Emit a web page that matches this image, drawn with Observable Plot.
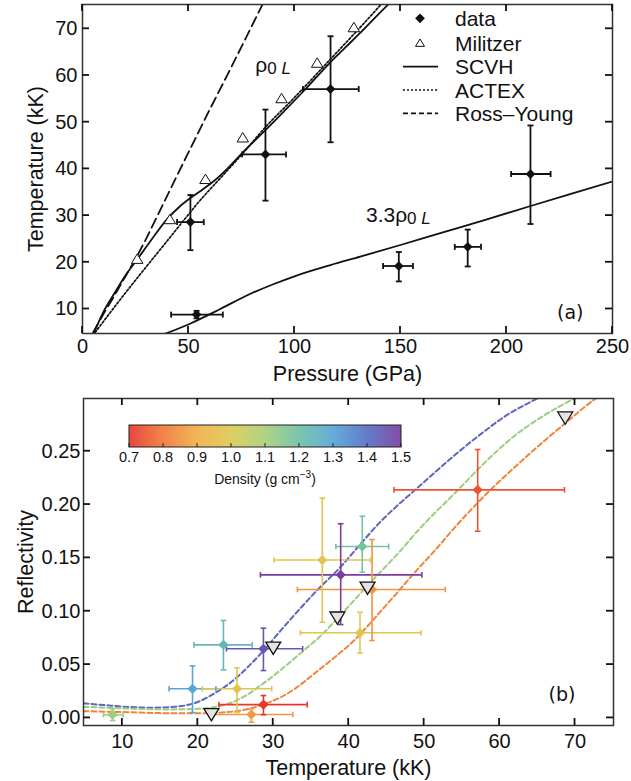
<!DOCTYPE html>
<html><head><meta charset="utf-8">
<script src="https://cdn.jsdelivr.net/npm/d3@7"></script>
<script src="https://cdn.jsdelivr.net/npm/@observablehq/plot@0.6"></script>
<style>
body{margin:0;background:#fff;}
#wrap{position:relative;width:631px;height:781px;overflow:hidden;background:#fff;}
.panel{position:absolute;left:0;}
</style></head><body><div id="wrap"><div id="pa" class="panel" style="top:0"></div><div id="pb" class="panel" style="top:390px"></div></div>
<script>
// ---------- Panel (a): Temperature vs Pressure ----------
const obsP   = [50.9, 53.8, 86.3, 117.0, 149.2, 181.7, 211.3];
const obsPLo = [44.6, 41.8, 75.3, 104.0, 141.8, 175.6, 202.2];
const obsPHi = [57.2, 66.2, 96.0, 130.3, 155.9, 188.0, 220.8];
const obsT   = [28.6, 8.8, 43.1, 57.1, 19.2, 23.3, 38.9];
const obsTLo = [22.6, 8.0, 33.2, 45.7, 15.9, 19.1, 28.2];
const obsTHi = [34.4, 9.6, 52.7, 68.4, 22.2, 27.0, 49.3];

const milP = [25.8, 41.2, 58.0, 75.6, 93.9, 110.7, 128.0];
const milT = [20.6, 29.1, 37.7, 46.6, 55.0, 62.6, 70.2];

const scvhP = [5.5, 10, 15, 20, 25.8, 32, 40, 46, 51, 57, 62, 68, 74.5, 80, 85.2, 95, 105, 116, 124, 131, 140, 146];
const scvhT = [5.0, 9.5, 13.3, 17.0, 20.6, 24.5, 29.3, 32.0, 33.8, 35.7, 37.4, 39.9, 43.0, 45.5, 47.8, 52.3, 57.0, 62.4, 66.0, 69.1, 73.3, 76];
const actexP = [6, 10, 20, 30, 40, 46, 55, 66.6, 75, 86, 100, 118, 132, 142];
const actexT = [5.0, 7.4, 13.3, 19.0, 24.6, 28.0, 33.0, 38.8, 43.0, 48.8, 55.3, 64.0, 70.8, 75.8];
const ryP = [5, 10, 15, 20, 25, 30, 38.4, 49.4, 60, 70, 84.7, 88];
const ryT = [5.0, 9.0, 12.8, 16.8, 20.7, 25.0, 32.8, 43.0, 52.7, 61.6, 75.0, 78];
const scvh33P = [38.4, 51, 65, 78, 90, 100, 117, 131, 150, 170, 190, 211, 230, 250];
const scvh33T = [4.6, 6.9, 10.0, 13.0, 15.3, 17.0, 19.4, 21.2, 23.7, 26.4, 29.1, 32.0, 34.6, 37.3];

const curveLabelText = ["ρ0 L", "3.3ρ0 L"];
const curveLabelP = [89.9, 149];
const curveLabelT = [62.1, 30.0];

const pTicks = [0, 50, 100, 150, 200, 250];
const tTicks = [10, 20, 30, 40, 50, 60, 70];
const legendA = ["data", "Militzer", "SCVH", "ACTEX", "Ross–Young"];

// ---------- Panel (b): Reflectivity vs Temperature ----------
const refT   = [8.7, 19.3, 23.4, 25.2, 28.7, 28.7, 27.1, 36.5, 38.94, 41.8, 43.1, 41.5, 57.1];
const refTLo = [7.5, 16.2, 19.5, 20.6, 23.8, 22.8, 21.6, 30.1, 28.3, 38.3, 33.2, 33.6, 46.0];
const refTHi = [10.1, 22.4, 27.2, 29.8, 33.9, 34.5, 32.6, 42.9, 49.7, 45.3, 52.8, 49.6, 68.6];
const refR   = [0.003, 0.0273, 0.0685, 0.0273, 0.0648, 0.0125, 0.0032, 0.148, 0.1341, 0.1607, 0.1204, 0.0798, 0.2138];
const refRLo = [-0.0025, 0.005, 0.045, 0.005, 0.0444, 0.003, -0.004, 0.0897, 0.0875, 0.1366, 0.0725, 0.0607, 0.175];
const refRHi = [0.0085, 0.0488, 0.0913, 0.047, 0.0841, 0.021, 0.0085, 0.206, 0.182, 0.189, 0.1672, 0.099, 0.2516];
const refRho = [1.12, 1.3, 1.24, 0.98, 1.45, 0.7, 0.86, 0.98, 1.5, 1.19, 0.85, 0.98, 0.74];

const triT = [21.8, 30.0, 38.5, 42.5, 68.7];
const triR = [0.004, 0.0663, 0.0945, 0.1225, 0.282];

const blueRho = 1.42;
const blueT = [4.85, 8, 11, 14, 17, 19.9, 22.1, 24.4, 26.6, 28.7, 31, 33.5, 36, 38.9, 41.5, 44.2, 47, 49.5, 53, 57.5, 61, 64.6, 67];
const blueR = [0.0138, 0.0118, 0.0102, 0.0096, 0.0105, 0.0147, 0.0226, 0.0334, 0.0475, 0.063, 0.082, 0.102, 0.121, 0.1413, 0.1625, 0.1838, 0.2025, 0.218, 0.240, 0.266, 0.284, 0.298, 0.307];
const greenRho = 1.12;
const greenT = [4.85, 8, 12, 16, 19, 22, 24.5, 26.6, 29, 31, 33.5, 36.3, 38.6, 42.9, 46.9, 49.1, 54.4, 58, 61.9, 66, 69.9, 72];
const greenR = [0.0105, 0.0095, 0.0085, 0.0080, 0.0083, 0.0100, 0.0145, 0.022, 0.034, 0.045, 0.060, 0.077, 0.094, 0.127, 0.157, 0.175, 0.213, 0.239, 0.264, 0.284, 0.2994, 0.307];
const orangeRho = 0.82;
const orangeT = [4.85, 10, 15, 20, 24, 27, 29, 31, 33, 35.4, 38, 40.7, 43, 46, 49.1, 51.3, 54.5, 58.4, 62, 65, 68.5, 72.75, 75.1];
const orangeR = [0.0063, 0.0055, 0.0045, 0.0043, 0.0055, 0.009, 0.0135, 0.0194, 0.028, 0.0413, 0.056, 0.0725, 0.090, 0.114, 0.139, 0.156, 0.182, 0.211, 0.235, 0.254, 0.275, 0.2994, 0.31];

const rTicks = [0, 0.05, 0.10, 0.15, 0.20, 0.25];
const tbTicks = [10, 20, 30, 40, 50, 60, 70];
const rhoTicks = [0.7, 0.8, 0.9, 1.0, 1.1, 1.2, 1.3, 1.4, 1.5];
const rhoColors = ["#e6372f", "#f07a3a", "#f2ae4a", "#dccb55", "#a8d078", "#70c0a6", "#58a6d6", "#5571c4", "#7b3d9e"];

// ---------- helpers ----------
const FONT = "'Liberation Sans', Arial, Helvetica, sans-serif";
const capV = {draw(c, s){ const r = Math.sqrt(s/Math.PI); c.moveTo(0,-r); c.lineTo(0,r); }};
const capH = {draw(c, s){ const r = Math.sqrt(s/Math.PI); c.moveTo(-r,0); c.lineTo(r,0); }};
const triUp = {draw(c, s){ const r = Math.sqrt(s/Math.PI); c.moveTo(0,-1.2*r); c.lineTo(1.25*r,0.85*r); c.lineTo(-1.25*r,0.85*r); c.closePath(); }};
const triDown = {draw(c, s){ const r = Math.sqrt(s/Math.PI); c.moveTo(0,1.2*r); c.lineTo(1.25*r,-0.85*r); c.lineTo(-1.25*r,-0.85*r); c.closePath(); }};
const pts = (X, Y, kx, ky) => X.map((v, i) => ({[kx]: v, [ky]: Y[i]}));

const obs = obsP.map((p, i) => ({P: p, Plo: obsPLo[i], Phi: obsPHi[i], T: obsT[i], Tlo: obsTLo[i], Thi: obsTHi[i]}));
const mil = pts(milP, milT, "P", "T");
const clabels = curveLabelText.map((t, i) => ({label: t, P: curveLabelP[i], T: curveLabelT[i]}));
const K = "#111";

const plotA = Plot.plot({
  width: 631, height: 390,
  marginTop: 4, marginBottom: 57, marginLeft: 82, marginRight: 19,
  style: {fontFamily: FONT, fontSize: "20px", color: K, background: "#fff"},
  x: {domain: [0, 250]},
  y: {domain: [4.75, 75.2]},
  marks: [
    Plot.line(pts(ryP, ryT, "P", "T"), {x: "P", y: "T", stroke: K, strokeWidth: 1.8, strokeDasharray: "10,5", clip: true}),
    Plot.line(pts(actexP, actexT, "P", "T"), {x: "P", y: "T", stroke: K, strokeWidth: 1.7, strokeDasharray: "2,2", curve: "monotone-x", clip: true}),
    Plot.line(pts(scvhP, scvhT, "P", "T"), {x: "P", y: "T", stroke: K, strokeWidth: 1.8, curve: "monotone-x", clip: true}),
    Plot.line(pts(scvh33P, scvh33T, "P", "T"), {x: "P", y: "T", stroke: K, strokeWidth: 1.8, curve: "monotone-x", clip: true}),
    Plot.ruleY(obs, {y: "T", x1: "Plo", x2: "Phi", stroke: K, strokeWidth: 1.8}),
    Plot.ruleX(obs, {x: "P", y1: "Tlo", y2: "Thi", stroke: K, strokeWidth: 1.8}),
    Plot.dot(obs, {x: "Plo", y: "T", symbol: capV, r: 3, stroke: K, strokeWidth: 1.8}),
    Plot.dot(obs, {x: "Phi", y: "T", symbol: capV, r: 3, stroke: K, strokeWidth: 1.8}),
    Plot.dot(obs, {x: "P", y: "Tlo", symbol: capH, r: 3, stroke: K, strokeWidth: 1.8}),
    Plot.dot(obs, {x: "P", y: "Thi", symbol: capH, r: 3, stroke: K, strokeWidth: 1.8}),
    Plot.dot(obs, {x: "P", y: "T", symbol: "diamond2", r: 4.4, fill: K, stroke: "none"}),
    Plot.dot(mil, {x: "P", y: "T", symbol: triUp, r: 4.6, fill: "white", stroke: K, strokeWidth: 1}),
    Plot.text(clabels, {x: "P", y: "T", text: "label", fontSize: 21, textAnchor: "middle", fill: K}),
    Plot.text(["(a)"], {frameAnchor: "bottom-right", dx: -29, dy: -15, fontSize: 19, fontFamily: "'DejaVu Sans', sans-serif", fill: K}),
    Plot.axisX({ticks: pTicks, tickSize: 0, tickPadding: 5, label: "Pressure (GPa)", labelAnchor: "center", labelOffset: 47, labelArrow: false, fill: K, fontSize: 20}),
    Plot.axisY({ticks: tTicks, tickSize: 0, tickPadding: 5, label: "Temperature (kK)", labelAnchor: "center", labelOffset: 55, labelArrow: false, fill: K, fontSize: 20}),
    Plot.frame({stroke: "#333", strokeWidth: 1.5})
  ]
});
document.getElementById("pa").append(plotA);

// ---------- panel (b) ----------
const pw = d3.piecewise(d3.interpolateRgb, rhoColors);
const refl = refT.map((t, i) => ({T: t, Tlo: refTLo[i], Thi: refTHi[i], R: refR[i], Rlo: refRLo[i], Rhi: refRHi[i], rho: refRho[i]}));
const tri = pts(triT, triR, "T", "R");
const models = [
  ...blueT.map((t, i) => ({T: t, R: blueR[i], rho: blueRho, m: "b"})),
  ...greenT.map((t, i) => ({T: t, R: greenR[i], rho: greenRho, m: "g"})),
  ...orangeT.map((t, i) => ({T: t, R: orangeR[i], rho: orangeRho, m: "o"}))
];

const plotB = Plot.plot({
  width: 631, height: 391,
  marginTop: 8, marginBottom: 56, marginLeft: 83, marginRight: 18,
  style: {fontFamily: FONT, fontSize: "20px", color: K, background: "#fff"},
  x: {domain: [4.85, 75.1]},
  y: {domain: [-0.0071, 0.2994]},
  color: {type: "linear", domain: [0.7, 1.5], interpolate: pw},
  marks: [
    Plot.line(models, {x: "T", y: "R", z: "m", stroke: "rho", strokeWidth: 2, strokeDasharray: "5,3", curve: "monotone-x", clip: true}),
    Plot.ruleY(refl, {y: "R", x1: "Tlo", x2: "Thi", stroke: "rho", strokeWidth: 1.6}),
    Plot.ruleX(refl, {x: "T", y1: "Rlo", y2: "Rhi", stroke: "rho", strokeWidth: 1.6, clip: true}),
    Plot.dot(refl, {x: "Tlo", y: "R", symbol: capV, r: 2.8, stroke: "rho", strokeWidth: 1.6}),
    Plot.dot(refl, {x: "Thi", y: "R", symbol: capV, r: 2.8, stroke: "rho", strokeWidth: 1.6}),
    Plot.dot(refl, {x: "T", y: "Rlo", symbol: capH, r: 2.8, stroke: "rho", strokeWidth: 1.6, clip: true}),
    Plot.dot(refl, {x: "T", y: "Rhi", symbol: capH, r: 2.8, stroke: "rho", strokeWidth: 1.6}),
    Plot.dot(refl, {x: "T", y: "R", symbol: "diamond2", r: 4.6, fill: "rho", stroke: "none"}),
    Plot.dot(tri, {x: "T", y: "R", symbol: triDown, r: 6, fill: "#e4e4e4", stroke: K, strokeWidth: 1.3}),
    Plot.text(["(b)"], {frameAnchor: "bottom-right", dx: -38, dy: -25, fontSize: 19, fontFamily: "'DejaVu Sans', sans-serif", fill: K}),
    Plot.axisX({ticks: tbTicks, tickSize: 0, tickPadding: 8, label: "Temperature (kK)", labelAnchor: "center", labelOffset: 49, labelArrow: false, fill: K, fontSize: 20}),
    Plot.axisY({ticks: rTicks, tickSize: 0, tickPadding: 3, tickFormat: d3.format(".2f"), label: "Reflectivity", labelAnchor: "center", labelOffset: 66, labelArrow: false, fill: K, fontSize: 20}),
    Plot.frame({stroke: "#333", strokeWidth: 1.5})
  ]
});
document.getElementById("pb").append(plotB);

// ---------- inward tick marks on all four sides, placed via the plots' own scales ----------
function inwardTicks(plot, xt, yt, len) {
  const sx = Plot.scale({x: plot.scale("x")});
  const sy = Plot.scale({y: plot.scale("y")});
  const [xl, xr] = plot.scale("x").range;
  const yr = plot.scale("y").range;
  const top = Math.min(...yr), bot = Math.max(...yr);
  const g = d3.select(plot).append("g").attr("stroke", "#111").attr("stroke-width", 1.8).attr("fill", "none");
  xt.forEach(v => {
    const x = sx.apply(v);
    g.append("line").attr("x1", x).attr("x2", x).attr("y1", bot).attr("y2", bot - len);
    g.append("line").attr("x1", x).attr("x2", x).attr("y1", top).attr("y2", top + len);
  });
  yt.forEach(v => {
    const y = sy.apply(v);
    g.append("line").attr("x1", xl).attr("x2", xl + len).attr("y1", y).attr("y2", y);
    g.append("line").attr("x1", xr).attr("x2", xr - len).attr("y1", y).attr("y2", y);
  });
}
inwardTicks(plotA, pTicks, tTicks, 7);
inwardTicks(plotB, tbTicks, rTicks, 7);

// axis titles slightly larger than tick labels
for (const p of [plotA, plotB]) {
  d3.select(p).selectAll("text").each(function() {
    const t = this.textContent;
    if (t === "Pressure (GPa)" || t === "Temperature (kK)" || t === "Reflectivity") d3.select(this).attr("font-size", 21.5);
  });
}

// ---------- subscript styling of ρ0 L labels ----------
d3.select(plotA).selectAll("text").each(function() {
  const t = this.textContent;
  if (t.endsWith("ρ0 L") && this.childElementCount === 0) {
    const pre = t.slice(0, -3);
    const sel = d3.select(this); sel.text(null);
    sel.append("tspan").text(pre);
    sel.append("tspan").attr("font-size", 17).attr("dy", 2).text("0");
    sel.append("tspan").attr("font-size", 17).attr("font-style", "italic").text(" L");
  }
});

// ---------- legend of panel (a) ----------
{
  const svg = d3.select(plotA);
  const g = svg.append("g").attr("font-family", FONT).attr("font-size", 21).attr("fill", K).attr("text-anchor", "start");
  const rows = [18.3, 43.3, 66.7, 90, 113.3];
  const symPath = (sym, size) => { const p = d3.path(); sym.draw(p, size); return p.toString(); };
  legendA.forEach((name, i) => {
    const y = rows[i];
    if (i === 0) g.append("path").attr("transform", `translate(420,${y})`).attr("d", d3.symbol(d3.symbolDiamond2, Math.PI*4.4*4.4)()).attr("fill", K);
    else if (i === 1) g.append("path").attr("transform", `translate(420,${y})`).attr("d", symPath(triUp, Math.PI*3.6*3.6)).attr("fill", "white").attr("stroke", K).attr("stroke-width", 1);
    else g.append("line").attr("x1", 403).attr("x2", 438).attr("y1", y).attr("y2", y).attr("stroke", K)
          .attr("stroke-width", i === 3 ? 1.7 : 1.8).attr("stroke-dasharray", i === 2 ? null : i === 3 ? "2,2" : "5,3");
    g.append("text").attr("x", 455).attr("y", y + 7.5).attr("text-anchor", "start").text(name);
  });
}

// ---------- colour bar of panel (b) ----------
{
  const cs = plotB.scale("color");
  const col = Plot.scale({color: cs});
  const svg = d3.select(plotB);
  const x0 = 129, x1 = 401, y0 = 35, h = 22;
  const cx = d3.scaleLinear().domain(cs.domain).range([x0, x1]);
  const grad = svg.append("defs").append("linearGradient").attr("id", "cbgrad");
  d3.range(0, 1.0001, 0.025).forEach(t => grad.append("stop").attr("offset", t).attr("stop-color", col.apply(cs.domain[0] + t*(cs.domain[1]-cs.domain[0]))));
  const g = svg.append("g").attr("font-family", FONT).attr("fill", K);
  g.append("rect").attr("x", x0).attr("y", y0).attr("width", x1 - x0).attr("height", h).attr("fill", "url(#cbgrad)").attr("fill-opacity", 0.92).attr("stroke", "#222").attr("stroke-width", 1);
  rhoTicks.forEach(v => {
    g.append("line").attr("x1", cx(v)).attr("x2", cx(v)).attr("y1", y0 + h).attr("y2", y0 + h - 4).attr("stroke", "#222").attr("stroke-width", 1);
    g.append("text").attr("x", cx(v)).attr("y", y0 + h + 15).attr("text-anchor", "middle").attr("font-size", 14.5).text(d3.format(".1f")(v));
  });
  const lab = g.append("text").attr("x", 265).attr("y", 94).attr("text-anchor", "middle").attr("font-size", 14);
  lab.append("tspan").text("Density (g cm");
  lab.append("tspan").attr("font-size", 10).attr("dy", -6).text("−3");
  lab.append("tspan").attr("dy", 6).text(")");
}
</script>
</body></html>
